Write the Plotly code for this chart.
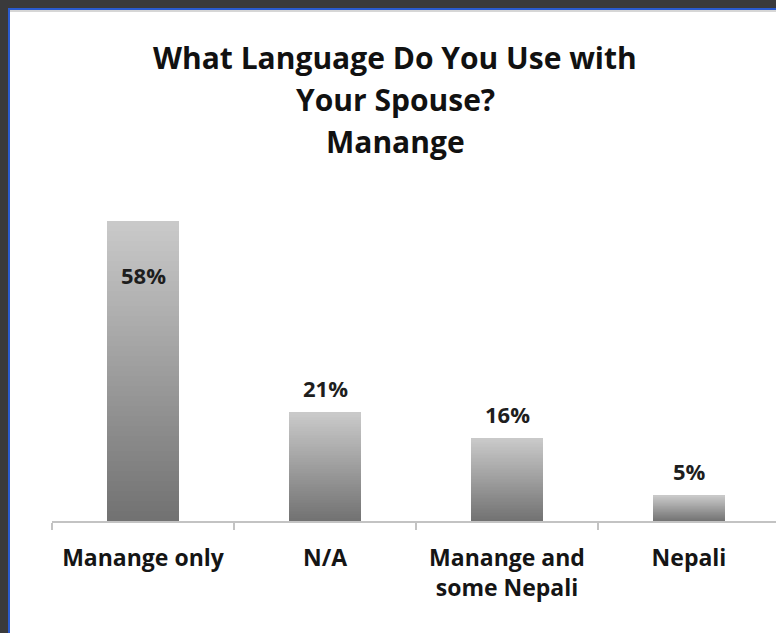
import plotly.graph_objects as go

# Survey responses: language used with spouse (Manange speakers)
categories = ["Manange only", "N/A", "Manange and<br>some Nepali", "Nepali"]
shares = [58, 21, 16, 5]
share_labels = ["58%", "21%", "16%", "5%"]
title_lines = ["What Language Do You Use with", "Your Spouse?", "Manange"]

W, H = 776, 633
L, R, T, B = 52, 0, 185, 112
FONT = "Open Sans"
Y_MAX = 65
plot_w = W - L - R
plot_h = H - T - B


def px_to_paper_y(py):
    return (H - B - py) / plot_h


def px_to_paper_x(px):
    return (px - L) / plot_w


fig = go.Figure()

# Vertical grey gradient inside each bar, built from thin stacked slices
N = 60
top_rgb = (202, 202, 202)
bot_rgb = (113, 113, 113)
for k in range(N):
    t = (k + 0.5) / N
    c = tuple(round(b + (tp - b) * t) for b, tp in zip(bot_rgb, top_rgb))
    fig.add_trace(go.Bar(
        x=categories,
        y=[v / N for v in shares],
        base=[v * k / N for v in shares],
        width=0.4,
        marker=dict(color="rgb(%d,%d,%d)" % c, line=dict(width=0)),
        hoverinfo="skip",
        showlegend=False,
    ))

# Value labels: the tallest one sits inside its bar, the rest above
for cat, v, lab in zip(categories, shares, share_labels):
    inside = v == max(shares)
    fig.add_annotation(
        x=cat, y=v, text="<b>%s</b>" % lab, showarrow=False,
        yanchor="middle", yshift=-54 if inside else 24,
        font=dict(family=FONT, size=22, color="#1e1e1e"),
    )

# Three-line heading, one annotation per line for even spacing
for line, cy in zip(title_lines, [57, 99, 141]):
    fig.add_annotation(
        xref="paper", yref="paper",
        x=px_to_paper_x(395), y=px_to_paper_y(cy),
        xanchor="center", yanchor="middle",
        text="<b>%s</b>" % line, showarrow=False,
        font=dict(family=FONT, size=30, color="#111111"),
    )

# White chart panel with a thin blue frame over the dark backdrop
fig.add_shape(
    type="rect", xref="paper", yref="paper", layer="below",
    x0=px_to_paper_x(9), x1=px_to_paper_x(W + 20),
    y0=px_to_paper_y(H + 20), y1=px_to_paper_y(9),
    fillcolor="white", line=dict(color="#2a5bd0", width=2),
)
fig.add_shape(
    type="line", xref="paper", yref="paper", layer="below",
    x0=px_to_paper_x(10), x1=px_to_paper_x(W + 20),
    y0=px_to_paper_y(11), y1=px_to_paper_y(11),
    line=dict(color="#d6d6d6", width=2),
)

fig.update_layout(
    width=W, height=H,
    margin=dict(l=L, r=R, t=T, b=B, pad=0),
    paper_bgcolor="#3a3a3c",
    plot_bgcolor="rgba(0,0,0,0)",
    barmode="overlay",
    bargap=0,
    xaxis=dict(
        type="category",
        range=[-0.5, -0.5 + plot_w / 182],
        showline=True, linecolor="#c3c3c3", linewidth=2,
        ticks="outside", tickson="boundaries", ticklen=7,
        tickcolor="#c3c3c3", tickwidth=2,
        showgrid=False, zeroline=False,
        tickfont=dict(family=FONT, size=23, color="#151515"),
        ticklabelstandoff=15,
        tickprefix="<b>", ticksuffix="</b>",
    ),
    yaxis=dict(range=[0, Y_MAX], visible=False, fixedrange=True),
    font=dict(family=FONT),
)

fig.write_html("out.html")
